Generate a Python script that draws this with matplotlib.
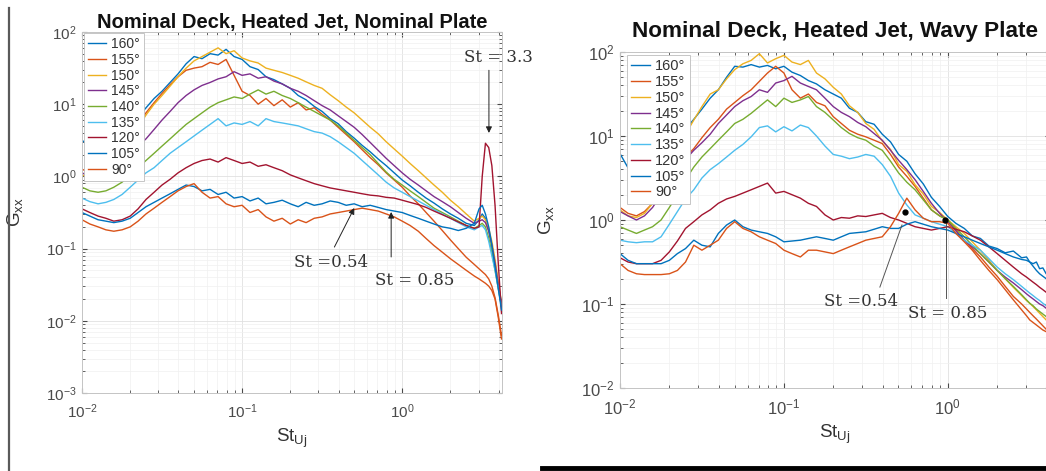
import matplotlib
matplotlib.use('Agg')
import matplotlib.pyplot as plt
from matplotlib.lines import Line2D

plt.rcParams['font.family'] = ['Liberation Sans', 'DejaVu Sans']
plt.rcParams['mathtext.fontset'] = 'custom'
plt.rcParams['mathtext.rm'] = 'Liberation Sans'
plt.rcParams['mathtext.it'] = 'Liberation Sans:italic'

# ---------------- data ----------------
st = [0.01, 0.0112, 0.0126, 0.0141, 0.0158, 0.0178, 0.02, 0.0224, 0.0251, 0.0282,
      0.0316, 0.0355, 0.0398, 0.0447, 0.0501, 0.0562, 0.0631, 0.0708, 0.0794, 0.0891,
      0.1, 0.112, 0.126, 0.141, 0.158, 0.178, 0.2, 0.224, 0.251, 0.282,
      0.316, 0.355, 0.398, 0.447, 0.501, 0.562, 0.631, 0.708, 0.794, 0.891,
      1.0, 1.12, 1.26, 1.41, 1.58, 1.78, 2.0, 2.24, 2.51, 2.82,
      3.02, 3.16, 3.31, 3.47, 3.63, 3.8, 3.98, 4.17]

angles = ['160°', '155°', '150°', '145°', '140°', '135°', '120°', '105°', '90°']
colors = ['#0072BD', '#D95319', '#EDB120', '#7E2F8E', '#77AC30',
          '#4DBEEE', '#A2142F', '#0072BD', '#D95319']

# Nominal plate
nom_160 = [3.16, 2.63, 2.29, 2.40, 2.88, 3.72, 5.01, 6.61, 8.91, 12.0,
           15.1, 20.0, 26.3, 36.3, 45.7, 42.7, 50.1, 47.9, 57.5, 45.7,
           41.7, 33.1, 30.2, 24.0, 21.9, 19.1, 16.6, 13.2, 11.5, 9.33,
           7.94, 6.31, 5.37, 4.17, 3.39, 2.69, 2.19, 1.74, 1.41, 1.12,
           0.891, 0.741, 0.603, 0.501, 0.427, 0.355, 0.302, 0.263, 0.224, 0.209,
           0.251, 0.302, 0.263, 0.178, 0.112, 0.063, 0.032, 0.016]
nom_155 = [1.26, 1.12, 1.12, 1.32, 1.78, 2.51, 3.55, 5.25, 7.59, 10.5,
           14.1, 18.6, 24.0, 29.5, 31.6, 33.1, 38.0, 35.5, 41.7, 25.1,
           15.1, 13.2, 10.0, 12.0, 9.55, 11.5, 9.12, 10.5, 8.32, 8.91,
           7.24, 6.03, 4.79, 3.80, 3.02, 2.34, 1.82, 1.45, 1.12, 0.891,
           0.708, 0.537, 0.417, 0.316, 0.240, 0.178, 0.132, 0.100, 0.0759, 0.0603,
           0.0525, 0.0479, 0.0437, 0.0380, 0.0302, 0.0209, 0.0120, 0.0063]
nom_150 = [1.05, 0.955, 1.00, 1.20, 1.58, 2.24, 3.16, 4.79, 7.08, 10.0,
           13.2, 17.8, 24.0, 31.6, 39.8, 45.7, 52.5, 60.3, 50.1, 55.0,
           43.7, 39.8, 37.2, 31.6, 29.5, 27.5, 25.1, 22.9, 20.4, 18.2,
           16.6, 13.5, 11.2, 9.12, 7.59, 6.03, 4.79, 3.89, 3.02, 2.40,
           1.91, 1.51, 1.20, 0.955, 0.759, 0.603, 0.468, 0.380, 0.302, 0.240,
           0.263, 0.282, 0.251, 0.191, 0.126, 0.0708, 0.0355, 0.0178]
nom_145 = [1.12, 1.00, 0.955, 1.05, 1.26, 1.58, 2.09, 2.63, 3.31, 4.47,
           6.03, 7.94, 10.5, 13.2, 15.8, 18.2, 20.0, 22.4, 24.0, 28.2,
           25.1, 26.3, 22.9, 24.0, 20.9, 19.1, 16.6, 15.1, 13.2, 11.2,
           9.55, 8.32, 6.92, 5.75, 4.79, 3.80, 2.95, 2.29, 1.78, 1.41,
           1.12, 0.912, 0.759, 0.631, 0.525, 0.447, 0.380, 0.316, 0.263, 0.224,
           0.240, 0.251, 0.229, 0.174, 0.112, 0.063, 0.0316, 0.0178]
nom_140 = [0.708, 0.631, 0.603, 0.631, 0.708, 0.832, 1.05, 1.32, 1.66, 2.09,
           2.63, 3.31, 4.17, 5.25, 6.31, 7.59, 9.12, 10.5, 11.5, 12.6,
           12.0, 13.8, 15.8, 13.8, 15.1, 13.2, 12.0, 10.5, 9.12, 7.94,
           6.92, 6.03, 5.01, 3.98, 3.16, 2.51, 2.00, 1.51, 1.15, 0.912,
           0.759, 0.631, 0.525, 0.437, 0.363, 0.316, 0.275, 0.240, 0.209, 0.191,
           0.209, 0.224, 0.200, 0.141, 0.0891, 0.0501, 0.0282, 0.0158]
nom_135 = [0.501, 0.447, 0.417, 0.437, 0.479, 0.562, 0.708, 0.891, 1.12, 1.32,
           1.66, 2.09, 2.51, 3.02, 3.63, 4.37, 5.25, 6.31, 5.01, 5.50,
           5.25, 5.75, 5.01, 6.31, 5.75, 5.50, 5.25, 5.01, 4.57, 4.17,
           3.98, 3.55, 3.02, 2.51, 2.09, 1.66, 1.32, 1.05, 0.832, 0.692,
           0.603, 0.525, 0.457, 0.398, 0.347, 0.302, 0.263, 0.229, 0.200, 0.182,
           0.200, 0.209, 0.182, 0.126, 0.0794, 0.0501, 0.0282, 0.0158]
nom_120 = [0.355, 0.316, 0.282, 0.263, 0.240, 0.251, 0.282, 0.355, 0.479, 0.603,
           0.759, 0.912, 1.12, 1.32, 1.51, 1.66, 1.74, 1.58, 1.82, 1.66,
           1.51, 1.58, 1.38, 1.45, 1.32, 1.20, 1.05, 0.955, 0.871, 0.794,
           0.741, 0.692, 0.661, 0.631, 0.603, 0.575, 0.550, 0.537, 0.513, 0.501,
           0.468, 0.437, 0.407, 0.372, 0.331, 0.295, 0.263, 0.234, 0.209, 0.191,
           0.200, 1.00, 2.88, 2.51, 1.41, 0.398, 0.063, 0.0126]
nom_105 = [0.316, 0.282, 0.251, 0.240, 0.229, 0.240, 0.263, 0.316, 0.380, 0.437,
           0.501, 0.575, 0.661, 0.759, 0.724, 0.631, 0.661, 0.562, 0.603, 0.501,
           0.525, 0.457, 0.501, 0.417, 0.437, 0.468, 0.417, 0.380, 0.437, 0.398,
           0.417, 0.457, 0.437, 0.398, 0.417, 0.380, 0.398, 0.372, 0.347, 0.331,
           0.316, 0.288, 0.263, 0.240, 0.219, 0.200, 0.191, 0.178, 0.191, 0.224,
           0.355, 0.398, 0.302, 0.200, 0.112, 0.0562, 0.0282, 0.0141]
nom_90 = [0.251, 0.219, 0.200, 0.182, 0.174, 0.182, 0.200, 0.240, 0.302, 0.363,
          0.437, 0.525, 0.631, 0.724, 0.794, 0.603, 0.501, 0.525, 0.417, 0.380,
          0.398, 0.316, 0.347, 0.275, 0.240, 0.263, 0.219, 0.251, 0.229, 0.263,
          0.275, 0.302, 0.316, 0.331, 0.347, 0.363, 0.347, 0.331, 0.302, 0.275,
          0.240, 0.209, 0.174, 0.138, 0.110, 0.0891, 0.0724, 0.0603, 0.0501, 0.0417,
          0.0380, 0.0355, 0.0331, 0.0302, 0.0263, 0.0200, 0.0112, 0.0056]

# Wavy plate
wavy_160 = [6.17, 4.17, 3.02, 2.82, 3.31, 4.79, 7.08, 9.55, 12.0, 15.8,
            20.9, 28.2, 35.5, 50.1, 67.6, 66.1, 70.8, 66.1, 69.2, 63.1,
            67.6, 57.5, 52.5, 45.7, 41.7, 35.5, 31.6, 28.2, 21.4, 19.1,
            14.8, 13.8, 10.5, 8.51, 6.03, 5.01, 3.55, 2.69, 1.86, 1.45,
            1.10, 0.912, 0.794, 0.646, 0.603, 0.490, 0.457, 0.407, 0.427, 0.355,
            0.363, 0.316, 0.302, 0.316, 0.263, 0.269, 0.229, 0.219]
wavy_155 = [1.41, 1.20, 1.12, 1.26, 1.58, 2.24, 3.16, 4.17, 5.62, 7.08,
            9.55, 12.6, 15.8, 20.9, 25.1, 30.2, 35.5, 44.7, 56.2, 67.6,
            56.2, 35.5, 28.2, 31.6, 25.1, 22.9, 17.0, 14.1, 11.7, 10.5,
            9.77, 8.91, 8.13, 6.03, 4.27, 3.31, 2.51, 1.82, 1.32, 1.12,
            1.00, 0.759, 0.575, 0.457, 0.363, 0.275, 0.214, 0.162, 0.123, 0.100,
            0.0871, 0.0794, 0.0724, 0.0661, 0.0603, 0.0550, 0.0501, 0.0457]
wavy_150 = [1.32, 1.12, 1.07, 1.20, 1.58, 2.51, 3.98, 6.61, 10.5, 15.5,
            22.4, 31.6, 35.5, 47.9, 61.7, 72.4, 79.4, 95.5, 74.1, 83.2,
            91.2, 75.9, 70.8, 79.4, 56.2, 47.9, 38.0, 31.6, 22.9, 19.1,
            14.1, 12.0, 8.71, 6.92, 4.57, 3.80, 2.63, 2.04, 1.45, 1.23,
            1.00, 0.832, 0.692, 0.550, 0.437, 0.331, 0.251, 0.200, 0.158, 0.126,
            0.110, 0.102, 0.0933, 0.0851, 0.0776, 0.0708, 0.0646, 0.0589]
wavy_145 = [1.26, 1.12, 1.00, 1.12, 1.41, 2.00, 2.82, 3.98, 5.25, 6.76,
            8.32, 10.5, 14.1, 17.8, 22.4, 26.3, 29.5, 35.5, 33.1, 42.7,
            45.7, 51.3, 42.7, 38.9, 35.5, 28.2, 22.4, 19.1, 17.0, 14.5,
            12.9, 10.7, 8.91, 6.76, 5.13, 3.98, 3.02, 2.19, 1.58, 1.20,
            0.955, 0.741, 0.575, 0.479, 0.398, 0.316, 0.251, 0.209, 0.178, 0.148,
            0.132, 0.123, 0.115, 0.107, 0.100, 0.0955, 0.0891, 0.0832]
wavy_140 = [0.832, 0.759, 0.692, 0.759, 0.832, 1.00, 1.41, 2.00, 3.02, 4.27,
            5.62, 7.08, 8.91, 11.2, 14.1, 15.8, 18.6, 22.4, 26.9, 22.4,
            28.2, 25.1, 26.9, 29.5, 22.4, 19.1, 15.5, 12.6, 10.7, 9.55,
            8.91, 7.59, 6.76, 5.01, 3.63, 2.82, 2.29, 1.74, 1.32, 1.12,
            1.00, 0.794, 0.631, 0.501, 0.398, 0.316, 0.251, 0.200, 0.162, 0.129,
            0.112, 0.102, 0.0955, 0.0871, 0.0813, 0.0759, 0.0708, 0.0661]
wavy_135 = [0.575, 0.550, 0.537, 0.550, 0.550, 0.631, 0.891, 1.26, 1.78, 2.29,
            3.16, 3.98, 4.68, 5.62, 6.76, 7.94, 9.77, 12.6, 13.2, 11.2,
            12.9, 11.5, 13.5, 12.6, 10.0, 7.59, 6.03, 5.75, 5.37, 5.62,
            6.03, 5.75, 4.57, 3.31, 2.09, 1.51, 1.15, 1.05, 0.955, 0.891,
            0.832, 0.692, 0.575, 0.501, 0.437, 0.347, 0.275, 0.229, 0.195, 0.162,
            0.145, 0.135, 0.126, 0.117, 0.110, 0.102, 0.0955, 0.0891]
wavy_120 = [0.355, 0.316, 0.302, 0.302, 0.302, 0.331, 0.417, 0.562, 0.794, 0.955,
            1.15, 1.32, 1.58, 1.78, 1.91, 2.09, 2.29, 2.51, 2.75, 2.09,
            2.19, 2.00, 1.82, 1.58, 1.45, 1.15, 1.00, 1.07, 1.05, 1.12,
            1.10, 1.15, 1.20, 1.07, 1.00, 0.912, 0.832, 0.794, 0.759, 0.794,
            0.832, 0.776, 0.724, 0.646, 0.575, 0.479, 0.398, 0.331, 0.275, 0.229,
            0.209, 0.195, 0.182, 0.170, 0.158, 0.148, 0.138, 0.129]
wavy_105 = [0.398, 0.331, 0.302, 0.302, 0.302, 0.302, 0.331, 0.398, 0.457, 0.575,
            0.501, 0.479, 0.692, 0.871, 1.00, 0.832, 0.759, 0.724, 0.692, 0.631,
            0.550, 0.562, 0.575, 0.603, 0.631, 0.603, 0.575, 0.631, 0.692, 0.708,
            0.724, 0.776, 0.832, 0.794, 0.794, 0.891, 0.955, 0.891, 0.832, 0.794,
            0.759, 0.692, 0.631, 0.575, 0.525, 0.479, 0.437, 0.398, 0.363, 0.339,
            0.331, 0.316, 0.282, 0.251, 0.229, 0.214, 0.200, 0.186]
wavy_90 = [0.302, 0.251, 0.229, 0.224, 0.224, 0.224, 0.229, 0.251, 0.316, 0.501,
           0.437, 0.501, 0.575, 0.794, 0.955, 0.794, 0.724, 0.631, 0.575, 0.525,
           0.437, 0.398, 0.363, 0.437, 0.437, 0.417, 0.398, 0.437, 0.479, 0.525,
           0.575, 0.603, 0.631, 0.832, 1.20, 1.82, 1.32, 1.05, 0.955, 0.955,
           0.912, 0.692, 0.550, 0.437, 0.331, 0.251, 0.195, 0.148, 0.112, 0.0851,
           0.0724, 0.0646, 0.0603, 0.0562, 0.0525, 0.0490, 0.0468, 0.0437]

nominal_series = [nom_160, nom_155, nom_150, nom_145, nom_140, nom_135, nom_120, nom_105, nom_90]
wavy_series = [wavy_160, wavy_155, wavy_150, wavy_145, wavy_140, wavy_135, wavy_120, wavy_105, wavy_90]

title_left = 'Nominal Deck, Heated Jet, Nominal Plate'
title_right = 'Nominal Deck, Heated Jet, Wavy Plate'

# ---------------- figure ----------------
W, H = 1046, 471
fig = plt.figure(figsize=(W / 100, H / 100), dpi=100)
fig.patch.set_facecolor('white')

axL = fig.add_axes([82 / W, 1 - 393 / H, 420 / W, 361 / H])
axR = fig.add_axes([620 / W, 1 - 388 / H, 430 / W, 336 / H])


def style(ax, series, title, ylim, tfs, tickfs, legfs, title_pad, leg_anchor, ylab_x, xlab_y):
    for vals, lab, col in zip(series, angles, colors):
        ax.plot(st, vals, color=col, lw=1.0, label=lab)
    ax.set_xscale('log')
    ax.set_yscale('log')
    ax.set_xlim(0.01, 4.2)
    ax.set_ylim(*ylim)
    ax.grid(True, which='major', color='#e0e0e0', lw=0.6)
    ax.grid(True, which='minor', color='#f0f0f0', lw=0.5)
    ax.set_axisbelow(True)
    ax.tick_params(which='both', direction='in', colors='#4a4a4a', labelsize=tickfs,
                   top=True, right=True)
    ax.tick_params(which='major', length=3.5)
    ax.tick_params(which='minor', length=2)
    ax.tick_params(axis='x', which='major', pad=7)
    ax.tick_params(axis='y', which='major', pad=4)
    for sp in ax.spines.values():
        sp.set_color('#c4c4c4')
        sp.set_linewidth(0.7)
    ax.set_title(title, fontsize=tfs, fontweight='bold', pad=title_pad, color='#111111')
    ax.set_xlabel(r'St$_{\rm Uj}$', fontsize=13.5, color='#333333')
    ax.set_ylabel(r'G$_{\rm xx}$', fontsize=13.5, color='#333333')
    ax.yaxis.set_label_coords(ylab_x, 0.5)
    ax.xaxis.set_label_coords(0.5, xlab_y)
    leg = ax.legend(loc='upper left', bbox_to_anchor=leg_anchor, borderaxespad=0,
                    fontsize=legfs, handlelength=1.3, handletextpad=0.35,
                    labelspacing=0.12, borderpad=0.3, fancybox=False, framealpha=1)
    leg.get_frame().set_edgecolor('#bdbdbd')
    leg.get_frame().set_linewidth(0.6)
    for t in leg.get_texts():
        t.set_color('#333333')


style(axL, nominal_series, title_left, (1e-3, 1e2), 14.5, 11, 10, 1,
      (0.005, 0.997), -0.135, -0.094)
style(axR, wavy_series, title_right, (1e-2, 1e2), 16.2, 12, 10.5, 11,
      (0.016, 0.991), -0.15, -0.104)

serif = dict(family=['DejaVu Serif'], fontsize=12, color='#333333')
arrow_kw = dict(arrowstyle='-|>', color='#222222', lw=0.7, mutation_scale=9,
                shrinkA=0, shrinkB=0)

# left panel annotations
axL.text(4.0, 45, 'St = 3.3', ha='center', va='center', clip_on=False, **serif)
axL.annotate('', xy=(3.48, 4.0), xytext=(3.48, 29.5), arrowprops=arrow_kw)
axL.text(0.361, 0.0652, 'St =0.54', ha='center', va='center', **serif)
axL.annotate('', xy=(0.502, 0.365), xytext=(0.377, 0.105), arrowprops=arrow_kw)
axL.text(1.19, 0.0367, 'St = 0.85', ha='center', va='center', **serif)
axL.annotate('', xy=(0.853, 0.321), xytext=(0.853, 0.0766), arrowprops=arrow_kw)

# right panel annotations
axR.plot([0.547, 0.96], [1.245, 1.0], 'o', color='black', ms=3.5, zorder=5)
axR.plot([0.385, 0.525], [0.159, 0.871], color='#555555', lw=0.7)
axR.plot([0.973, 0.973], [0.117, 0.946], color='#555555', lw=0.7)
axR.text(0.295, 0.106, 'St =0.54', ha='center', va='center', **serif)
axR.text(1.0, 0.078, 'St = 0.85', ha='center', va='center', **serif)

# page decorations from the source document
fig.add_artist(Line2D([9 / W, 9 / W], [0, 1 - 8 / H], color='#5a5a5a', lw=1.6))
fig.add_artist(Line2D([542 / W, 1.0], [1 - 468 / H, 1 - 468 / H], color='black', lw=3.5))

fig.savefig('out.png', dpi=100, facecolor='white')
